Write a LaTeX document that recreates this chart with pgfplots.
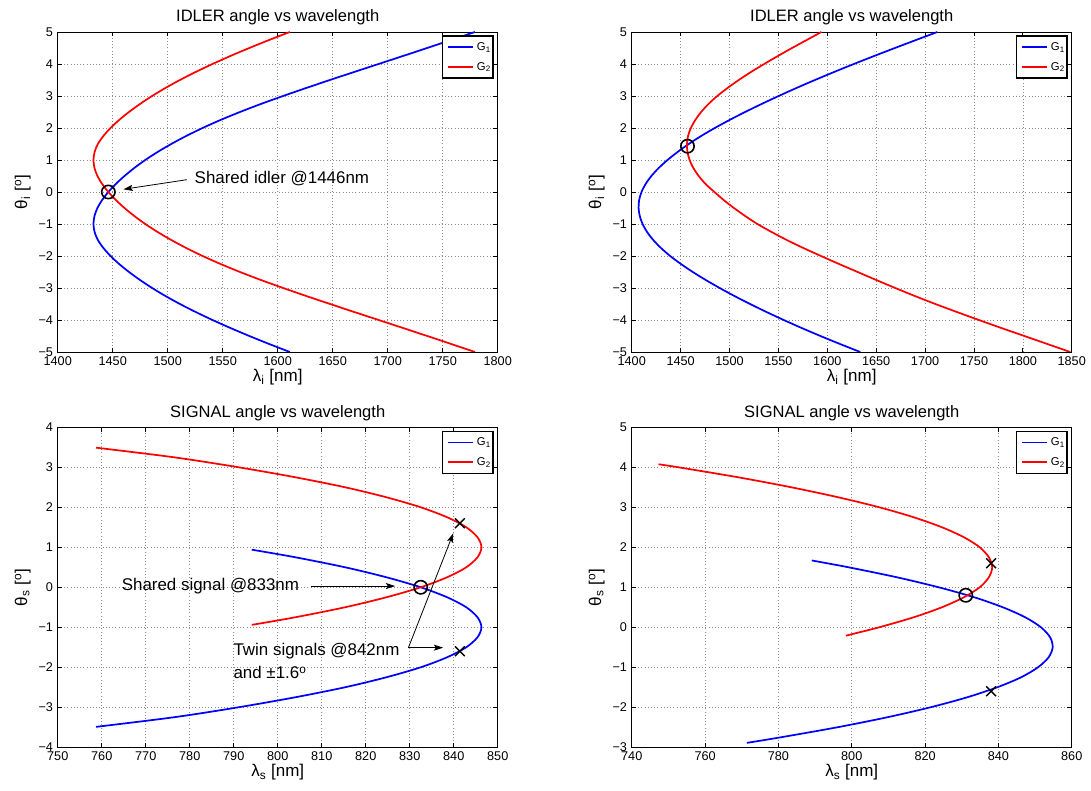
\documentclass[border=0pt]{standalone}
\usepackage{pgfplots}
\pgfplotsset{compat=1.18}
\usepackage{fontspec}
\setmainfont{Liberation Sans}
\usetikzlibrary{arrows.meta}

\newcommand{\tickfont}{\fontsize{9.5}{11}\selectfont}
\newcommand{\labfont}{\fontsize{12.75}{15}\selectfont}
\newcommand{\ttlfont}{\fontsize{12.4}{15}\selectfont}
\newcommand{\notefont}{\fontsize{12.7}{15}\selectfont}
\newcommand{\legfont}{\fontsize{8.5}{9}\selectfont}

\tikzset{note/.style={-{Stealth[length=7pt, width=4.5pt, inset=1.5pt]}, line width=0.6pt, black}}

% MATLAB-like legend box in the top right corner of the current axis
\newcommand{\mlegend}{%
  \draw[line width=0.9pt, fill=white] ([xshift=-41.4pt,yshift=-3pt]rel axis cs:1,1)
    rectangle ([xshift=-3.6pt,yshift=-34.5pt]rel axis cs:1,1);
  \fill[blue] ([xshift=-37pt,yshift=-10.85pt]rel axis cs:1,1)
    rectangle ([xshift=-18.8pt,yshift=-12.15pt]rel axis cs:1,1);
  \fill[red] ([xshift=-37pt,yshift=-25.6pt]rel axis cs:1,1)
    rectangle ([xshift=-18.8pt,yshift=-26.9pt]rel axis cs:1,1);
  \node[anchor=west, inner sep=1.5pt, font=\legfont] at ([xshift=-17.3pt,yshift=-11.5pt]rel axis cs:1,1) {G\textsubscript{1}};
  \node[anchor=west, inner sep=1.5pt, font=\legfont] at ([xshift=-17.3pt,yshift=-26.25pt]rel axis cs:1,1) {G\textsubscript{2}};
}

\pgfplotsset{
  mlab/.style={
    scale only axis, width=330pt, height=240pt, anchor=south west,
    axis line style={line width=0.6pt, black},
    grid=major, major grid style={dotted, line width=0.5pt, black!45},
    tick align=inside, xtick pos=both, ytick pos=both,
    major tick length=3.3pt, tick style={line width=0.6pt, black},
    ticklabel style={font=\tickfont},
    every axis title/.style={font=\ttlfont, at={(axis description cs:0.5,1.03125)}, anchor=base},
    every axis x label/.style={font=\labfont, at={(axis description cs:0.5,-0.0917)}, anchor=base},
    every axis y label/.style={font=\labfont, at={(axis description cs:-0.0697,0.5)}, anchor=base, rotate=90},
  },
  gone/.style={blue, line width=1.3pt, smooth, no marks},
  gtwo/.style={red, line width=1.3pt, smooth, no marks},
  mko/.style={only marks, mark=o, mark size=5pt, black, mark options={line width=1.2pt}},
  mkx/.style={only marks, mark=x, mark size=5.2pt, black, mark options={line width=1.1pt}},
}

\begin{document}
\begin{tikzpicture}
\useasboundingbox (0,0) rectangle (818.25pt,593.25pt);

% ---------- top left: idler ----------
\begin{axis}[mlab, at={(43.3pt,329.25pt)},
  title={IDLER angle vs wavelength},
  xlabel={λ\textsubscript{i} [nm]}, ylabel={θ\textsubscript{i} [\textsuperscript{o}]},
  xmin=1400, xmax=1800, ymin=-5, ymax=5,
  xtick={1400,1450,...,1800}, xticklabels={1400,1450,1500,1550,1600,1650,1700,1750,1800},
  ytick={-5,...,5}, yticklabels={−5,−4,−3,−2,−1,0,1,2,3,4,5},
]
\addplot[gone] coordinates {
  (1611,-5) (1592.2,-4.75) (1574.2,-4.5) (1557,-4.25) (1540.7,-4) (1525.4,-3.75)
  (1511.1,-3.5) (1497.9,-3.25) (1485.8,-3) (1474.8,-2.75) (1464.8,-2.5) (1455.8,-2.25)
  (1448,-2) (1441.5,-1.75) (1436.5,-1.5) (1433.5,-1.25) (1432.5,-1) (1433.4,-0.75)
  (1436.1,-0.5) (1440.4,-0.25) (1446,0) (1452.8,0.25) (1460.7,0.5) (1469.6,0.75)
  (1479.6,1) (1490.8,1.25) (1503.2,1.5) (1516.8,1.75) (1531.7,2) (1548,2.25)
  (1565.7,2.5) (1584.7,2.75) (1604.9,3) (1625.9,3.25) (1647.5,3.5) (1669.5,3.75)
  (1691.7,4) (1713.9,4.25) (1735.9,4.5) (1757.7,4.75) (1779.3,5)
};
\addplot[gtwo] coordinates {
  (1611,5) (1592.2,4.75) (1574.2,4.5) (1557,4.25) (1540.7,4) (1525.4,3.75)
  (1511.1,3.5) (1497.9,3.25) (1485.8,3) (1474.8,2.75) (1464.8,2.5) (1455.8,2.25)
  (1448,2) (1441.5,1.75) (1436.5,1.5) (1433.5,1.25) (1432.5,1) (1433.4,0.75)
  (1436.1,0.5) (1440.4,0.25) (1446,0) (1452.8,-0.25) (1460.7,-0.5) (1469.6,-0.75)
  (1479.6,-1) (1490.8,-1.25) (1503.2,-1.5) (1516.8,-1.75) (1531.7,-2) (1548,-2.25)
  (1565.7,-2.5) (1584.7,-2.75) (1604.9,-3) (1625.9,-3.25) (1647.5,-3.5) (1669.5,-3.75)
  (1691.7,-4) (1713.9,-4.25) (1735.9,-4.5) (1757.7,-4.75) (1779.3,-5)
};
\mlegend
\addplot[mko] coordinates {(1446,0)};
\draw[note] (axis cs:1517.4,0.384) -- (axis cs:1459.7,0.084);
\node[anchor=base west, inner sep=0pt, font=\notefont] at (axis cs:1524.3,0.25) {Shared idler @1446nm};
\end{axis}

% ---------- top right: idler ----------
\begin{axis}[mlab, at={(473.8pt,329.25pt)},
  title={IDLER angle vs wavelength},
  xlabel={λ\textsubscript{i} [nm]}, ylabel={θ\textsubscript{i} [\textsuperscript{o}]},
  xmin=1400, xmax=1850, ymin=-5, ymax=5,
  xtick={1400,1450,...,1850}, xticklabels={1400,1450,1500,1550,1600,1650,1700,1750,1800,1850},
  ytick={-5,...,5}, yticklabels={−5,−4,−3,−2,−1,0,1,2,3,4,5},
]
\addplot[gone] coordinates {
  (1633.7,-5) (1613,-4.75) (1593,-4.5) (1573.8,-4.25) (1555.4,-4) (1537.8,-3.75)
  (1521,-3.5) (1505,-3.25) (1489.9,-3) (1475.7,-2.75) (1462.4,-2.5) (1450.3,-2.25)
  (1439.3,-2) (1429.9,-1.75) (1422,-1.5) (1415.7,-1.25) (1411.1,-1) (1408.2,-0.75)
  (1407,-0.5) (1407.6,-0.25) (1410,0) (1414.2,0.25) (1420.1,0.5) (1427.6,0.75)
  (1436.6,1) (1446.9,1.25) (1458.3,1.5) (1471,1.75) (1485,2) (1500,2.25)
  (1516,2.5) (1532.8,2.75) (1550.3,3) (1568.5,3.25) (1587.4,3.5) (1607,3.75)
  (1627.2,4) (1648,4.25) (1669.2,4.5) (1690.8,4.75) (1712.6,5)
};
\addplot[gtwo] coordinates {
  (1848.5,-5) (1825,-4.75) (1801.5,-4.5) (1778,-4.25) (1755,-4) (1732.5,-3.75)
  (1710.5,-3.5) (1689.5,-3.25) (1669.5,-3) (1650,-2.75) (1631,-2.5) (1612,-2.25)
  (1593.5,-2) (1575.5,-1.75) (1558.5,-1.5) (1543,-1.25) (1528.5,-1) (1516,-0.75)
  (1504.5,-0.5) (1494,-0.25) (1484.5,0) (1475.5,0.25) (1468.5,0.5) (1463,0.75)
  (1459.2,1) (1457,1.25) (1456.5,1.5) (1457.6,1.75) (1460.5,2) (1465,2.25)
  (1471,2.5) (1478.5,2.75) (1487.5,3) (1498,3.25) (1509.5,3.5) (1522,3.75)
  (1535.5,4) (1549.5,4.25) (1564,4.5) (1579,4.75) (1594,5)
};
\mlegend
\addplot[mko] coordinates {(1457,1.43)};
\end{axis}

% ---------- bottom left: signal ----------
\begin{axis}[mlab, at={(43.3pt,32.8pt)},
  title={SIGNAL angle vs wavelength},
  xlabel={λ\textsubscript{s} [nm]}, ylabel={θ\textsubscript{s} [\textsuperscript{o}]},
  xmin=750, xmax=850, ymin=-4, ymax=4,
  xtick={750,760,...,850}, xticklabels={750,760,770,780,790,800,810,820,830,840,850},
  ytick={-4,...,4}, yticklabels={−4,−3,−2,−1,0,1,2,3,4},
]
\addplot[gone] coordinates {
  (794.1,0.94) (804.0,0.75) (815.3,0.5) (824.7,0.25) (832.5,0) (838.5,-0.25)
  (842.85,-0.5) (845.4,-0.75) (846.3,-1.0) (845.4,-1.25) (842.85,-1.5) (838.5,-1.75)
  (832.5,-2.0) (824.7,-2.25) (815.3,-2.5) (804.0,-2.75) (791.1,-3.0) (776.4,-3.25)
  (758.7,-3.49)
};
\addplot[gtwo] coordinates {
  (794.1,-0.94) (804.0,-0.75) (815.3,-0.5) (824.7,-0.25) (832.5,0) (838.5,0.25)
  (842.85,0.5) (845.4,0.75) (846.3,1.0) (845.4,1.25) (842.85,1.5) (838.5,1.75)
  (832.5,2.0) (824.7,2.25) (815.3,2.5) (804.0,2.75) (791.1,3.0) (776.4,3.25)
  (758.7,3.49)
};
\mlegend
\addplot[mko] coordinates {(832.5,0)};
\addplot[mkx] coordinates {(841.4,1.6)};
\addplot[mkx] coordinates {(841.4,-1.6)};
\draw[note] (axis cs:807.6,0.03) -- (axis cs:826.7,0.03);
\draw[note] (axis cs:829.7,-1.51) -- (axis cs:837.6,-1.51);
\draw[note] (axis cs:829.7,-1.51) -- (axis cs:839.9,1.35);
\node[anchor=base west, inner sep=0pt, font=\notefont] at (axis cs:764.5,-0.09) {Shared signal @833nm};
\node[anchor=base west, inner sep=0pt, font=\notefont] at (axis cs:789.9,-1.71) {Twin signals @842nm};
\node[anchor=base west, inner sep=0pt, font=\notefont] at (axis cs:789.9,-2.29) {and ±1.6\textsuperscript{o}};
\end{axis}

% ---------- bottom right: signal ----------
\begin{axis}[mlab, at={(473.8pt,32.8pt)},
  title={SIGNAL angle vs wavelength},
  xlabel={λ\textsubscript{s} [nm]}, ylabel={θ\textsubscript{s} [\textsuperscript{o}]},
  xmin=740, xmax=860, ymin=-3, ymax=5,
  xtick={740,760,...,860}, xticklabels={740,760,780,800,820,840,860},
  ytick={-3,...,5}, yticklabels={−3,−2,−1,0,1,2,3,4,5},
]
\addplot[gone] coordinates {
  (771.4,-2.89) (780.7,-2.75) (796.1,-2.5) (809.7,-2.25) (821.5,-2.0) (831.5,-1.75)
  (839.7,-1.5) (846.2,-1.25) (850.8,-1.0) (853.7,-0.75) (854.8,-0.5) (854.1,-0.25)
  (851.6,0) (847.3,0.25) (841.2,0.5) (833.4,0.75) (823.7,1.0) (812.3,1.25)
  (799.1,1.5) (789.1,1.67)
};
\addplot[gtwo] coordinates {
  (798.4,-0.21) (807.5,0) (816.9,0.25) (824.6,0.5) (830.6,0.75) (834.9,1.0)
  (837.4,1.25) (838.3,1.5) (837.4,1.75) (834.9,2.0) (830.6,2.25) (824.6,2.5)
  (816.9,2.75) (807.5,3.0) (796.3,3.25) (783.5,3.5) (769.0,3.75) (752.7,4.0)
  (747.3,4.075)
};
\mlegend
\addplot[mko] coordinates {(831.1,0.8)};
\addplot[mkx] coordinates {(838,1.6)};
\addplot[mkx] coordinates {(838,-1.6)};
\end{axis}
\end{tikzpicture}
\end{document}
